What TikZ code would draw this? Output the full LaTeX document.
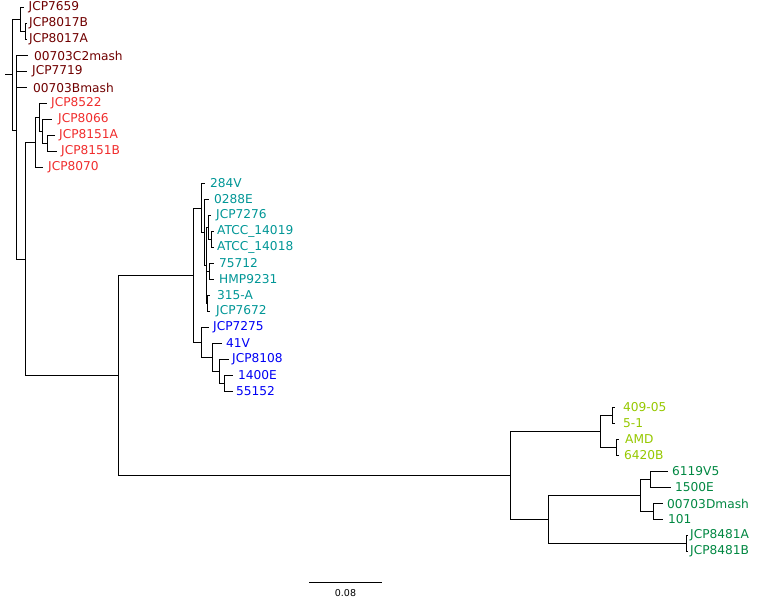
\documentclass[tikz,border=0pt]{standalone}
\usepackage{fontspec}
\setmainfont{DejaVu Sans}
\definecolor{cdr}{RGB}{112,0,0}
\definecolor{cr}{RGB}{240,45,45}
\definecolor{ct}{RGB}{0,150,150}
\definecolor{cb}{RGB}{0,0,245}
\definecolor{cy}{RGB}{150,200,0}
\definecolor{cg}{RGB}{0,135,65}
\begin{document}
\begin{tikzpicture}[x=1pt,y=-1pt,
  br/.style={draw=black,line width=0.9pt},
  lab/.style={anchor=west,inner sep=0pt,font=\fontsize{12.2}{14}\selectfont}]
\useasboundingbox (0,0) rectangle (783,601);
% tips: index/y/tip end x/label x/colour/text
\foreach \n/\y/\tx/\lx/\c/\t in {
 0/7.5/24/28.5/cdr/JCP7659,
 1/23.5/27/29/cdr/JCP8017B,
 2/39.5/27/29/cdr/JCP8017A,
 3/55.5/28/34/cdr/00703C2mash,
 4/71.5/27/32/cdr/JCP7719,
 5/87.5/27/33/cdr/00703Bmash,
 6/103.5/47/51/cr/JCP8522,
 7/119.5/52/58/cr/JCP8066,
 8/135.5/55/59/cr/JCP8151A,
 9/151.5/57/61/cr/JCP8151B,
 10/167.5/43/48/cr/JCP8070,
 11/183.5/205/210/ct/284V,
 12/199.5/209/214/ct/0288E,
 13/215.5/211/216/ct/JCP7276,
 14/231.5/214/217/ct/ATCC\_14019,
 15/247.5/214/217/ct/ATCC\_14018,
 16/263.5/214/219/ct/75712,
 17/279.5/214/219/ct/HMP9231,
 18/295.5/210/217/ct/315-A,
 19/311.5/210/216/ct/JCP7672,
 20/327.5/209/213/cb/JCP7275,
 21/343.5/222/226/cb/41V,
 22/359.5/229/232/cb/JCP8108,
 23/375.5/233/238/cb/1400E,
 24/391.5/233/236/cb/55152,
 25/407.5/615/623/cy/409-05,
 26/423.5/615/623/cy/5-1,
 27/439.5/619/625/cy/AMD,
 28/455.5/619/624/cy/6420B,
 29/471.5/668/672/cg/6119V5,
 30/487.5/671/675/cg/1500E,
 31/503.5/663/667/cg/00703Dmash,
 32/519.5/663/668/cg/101,
 33/535.5/688/690/cg/JCP8481A,
 34/551.5/688/690/cg/JCP8481B}
{ \coordinate (t\n) at (\tx,\y);
  \node[lab,text=\c] (l\n) at (\lx,\y) {\t}; }
% internal nodes
\coordinate (rs) at (5,74.75);
\coordinate (root) at (12.5,74.75);
\coordinate (T) at (20,19.5);
\coordinate (C1) at (25,31.5);
\coordinate (Q) at (16.5,130);
\coordinate (N25) at (25,259);
\coordinate (R1) at (35,142.5);
\coordinate (R2) at (39,117.5);
\coordinate (R3) at (42,131.5);
\coordinate (R4) at (47,143.5);
\coordinate (BIG) at (118,375.4);
\coordinate (TB) at (193.3,275.25);
\coordinate (Tn) at (201,208);
\coordinate (B) at (204.3,232.5);
\coordinate (E) at (206,265.5);
\coordinate (D) at (208,227.5);
\coordinate (Ca) at (211,239.5);
\coordinate (Cb) at (209,271.5);
\coordinate (Cc) at (207,303.5);
\coordinate (Bl) at (201,342.5);
\coordinate (Bl2) at (212,357.5);
\coordinate (Bl3) at (219,371.5);
\coordinate (Bl4) at (224,383.5);
\coordinate (YG) at (510,475.5);
\coordinate (Yn) at (600,431.5);
\coordinate (Y1) at (612.7,415.5);
\coordinate (Y2) at (616.7,447.5);
\coordinate (Gn) at (548,519.5);
\coordinate (G1) at (640.7,495.5);
\coordinate (G2) at (650,479.5);
\coordinate (G3) at (653.3,511.5);
\coordinate (G4) at (686.7,543.5);
% branches
\draw[br] (rs) -- (root);
\foreach \p/\c in {root/T, root/Q, T/t0, T/C1, C1/t1, C1/t2,
  Q/t3, Q/t4, Q/t5, Q/N25, N25/R1, N25/BIG,
  R1/R2, R1/t10, R2/t6, R2/R3, R3/t7, R3/R4, R4/t8, R4/t9,
  BIG/TB, BIG/YG, TB/Tn, TB/Bl,
  Tn/t11, Tn/B, B/t12, B/E, E/D, E/Cb, E/Cc, D/t13, D/Ca,
  Ca/t14, Ca/t15, Cb/t16, Cb/t17, Cc/t18, Cc/t19,
  Bl/t20, Bl/Bl2, Bl2/t21, Bl2/Bl3, Bl3/t22, Bl3/Bl4, Bl4/t23, Bl4/t24,
  YG/Yn, YG/Gn, Yn/Y1, Yn/Y2, Y1/t25, Y1/t26, Y2/t27, Y2/t28,
  Gn/G1, Gn/G4, G1/G2, G1/G3, G2/t29, G2/t30, G3/t31, G3/t32, G4/t33, G4/t34}
  { \draw[br] (\p) |- (\c); }
% scale bar
\coordinate (sb1) at (309,582);
\coordinate (sb2) at (382,582);
\draw[br] (sb1) -- (sb2);
\node[inner sep=0pt,font=\fontsize{9.5}{11}\selectfont] (sbl) at (345.5,593) {0.08};
\end{tikzpicture}
\end{document}
